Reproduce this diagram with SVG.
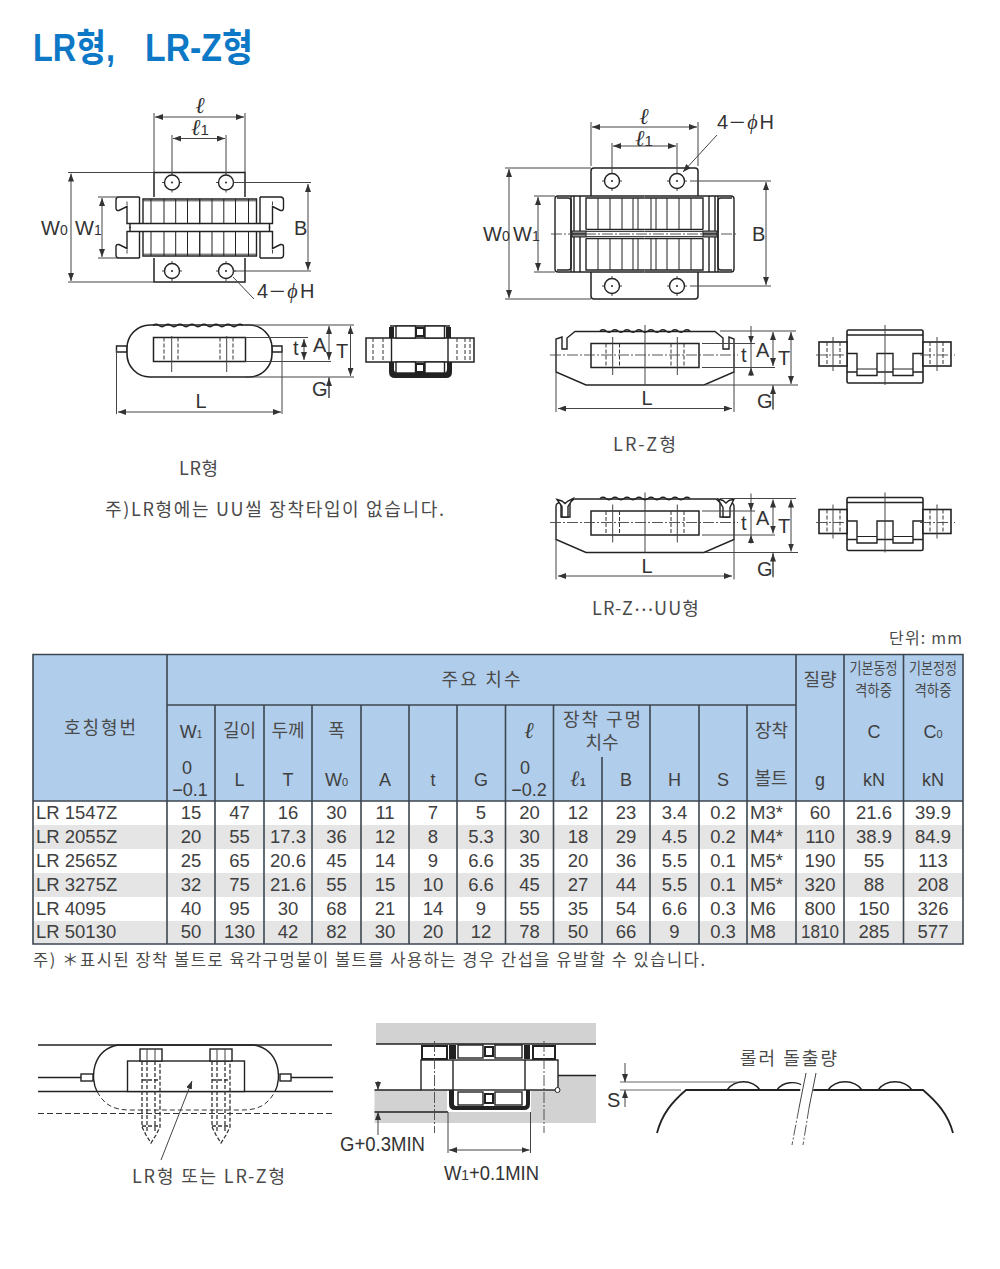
<svg xmlns="http://www.w3.org/2000/svg" width="1000" height="1269" viewBox="0 0 1000 1269">
<style>
text{font-family:"Liberation Sans","Noto Sans CJK KR",sans-serif;fill:#3f3f3f}
.kr{font-family:"Noto Sans CJK KR","Liberation Sans",sans-serif;fill:#4a4a4a}
.d{font-size:20px;fill:#333}
.m{text-anchor:middle}
.l{font-family:"Liberation Serif","DejaVu Serif",serif;font-style:italic}
.s{font-style:normal;font-family:"Liberation Sans",sans-serif}
.c{font-size:18.5px;text-anchor:middle}
.h{font-size:18px;text-anchor:middle}
.n{font-size:18.5px}
.sm{font-size:15px}
.o{fill:none;stroke:#222;stroke-width:1.4}
.w{fill:#fff;stroke:#222;stroke-width:1.4}
.t{fill:none;stroke:#444;stroke-width:1}
.g{fill:none;stroke:#666;stroke-width:1}
.a{fill:none;stroke:#444;stroke-width:1;marker-start:url(#ar);marker-end:url(#ar)}
.a1{fill:none;stroke:#444;stroke-width:1;marker-end:url(#ar)}
.da{fill:none;stroke:#333;stroke-width:1;stroke-dasharray:4 2}
.cl{fill:none;stroke:#444;stroke-width:.9;stroke-dasharray:11 2 2 2}
.k{fill:#222;stroke:none}
.tb{fill:none;stroke:#3c4650;stroke-width:1.6}
</style>
<defs>
<marker id="ar" viewBox="0 0 8 6" refX="8" refY="3" markerWidth="8" markerHeight="6" markerUnits="userSpaceOnUse" orient="auto-start-reverse"><path d="M0 0L8 3L0 6Z" fill="#333"/></marker>
<g id="hole"><circle r="7.500" fill="#fff" stroke="#222" stroke-width="1.400"/><circle r="1" fill="#222"/><path d="M-10 0H-8M8 0H10M0-10V-8M0 8V10" class="t"/></g>
<g id="q1">
<path class="o" d="M139.500 197H119Q116 197 116 200V208Q116 211 119 210.500L127 206.500V223.500H200M130 223.500V228"/>
<path class="o" d="M139.500 197V223.500"/>
<path class="t" d="M127 201.500V205"/>
<path class="o" d="M143 223.500V199H200"/>
<path class="t" d="M143 200.800H200"/>
<path class="t" style="stroke:#222" d="M151 199V223.500M164 199V223.500M175.700 199V223.500M187.500 199V223.500M199.700 199V223.500"/>
</g>
<g id="q2">
<path class="o" d="M644.500 196H558Q555 196 555 199V234"/>
<path class="o" d="M571 196V234M574 196V231M580 196V231"/>
<path class="o" d="M557 198H568Q571 198 571 201V234"/>
<path class="o" d="M586 229.500V198H644.500M586 229.500H644.500"/>
<path class="t" d="M586 231.500H644.500"/>
<path class="t" style="stroke:#222" d="M598 198V229.500M610 198V229.500M622 198V229.500M633 198V229.500M638 198V229.500"/>
<rect x="572" y="231" width="14" height="3" fill="#888" stroke="#222" stroke-width="1"/>
</g>
<path id="rip" class="o" d="M0 0q3-2.500 6 0t6 0 6 0 6 0 6 0 6 0 6 0 6 0 6 0 6 0 6 0 6 0 6 0 6 0 6 0"/>
<g id="bolt">
<rect x="-11" y="-12" width="22" height="12" fill="#fff" stroke="#222" stroke-width="1.400"/>
<path class="t" d="M-4 -12V0M4-12V0"/>
<path class="da" style="stroke-width:1.300" d="M-9 0V66L-5 74L0 82L5 74L9 66V0M-4 0V70M4 0V70M-9 19H9M-9 65H9"/>
</g>
<g id="zsec">
<rect x="847" y="330" width="76" height="53" rx="1.500" fill="#fff" stroke="#222" stroke-width="1.600"/>
<path class="o" d="M847 335H923M847 353.500H857V375.500H877V353.500H893V375.500H913V353.500H923M847 372H857M877 372H893M913 372H923"/>
<path class="t" style="stroke:#222" d="M857 372H877M893 372H913" transform="translate(0 -3)"/>
<rect x="819" y="342" width="28" height="24" fill="#fff" stroke="#222" stroke-width="1.600"/>
<rect x="923" y="342" width="28" height="24" fill="#fff" stroke="#222" stroke-width="1.600"/>
<path class="da" d="M827 342V366M840 342V366M930 342V366M943 342V366"/>
<path class="t" d="M833 337V371M937 337V371M885 325V385"/>
<path class="cl" d="M816 355H850M920 355H955"/>
</g>
<g id="zdim">
<rect x="591" y="343.500" width="108" height="24" fill="none" stroke="#222" stroke-width="1.500"/>
<path class="t" d="M645 325V385"/>
<path class="cl" d="M550 355H738"/>
<path class="da" d="M606 343.500V367.500M619.500 343.500V367.500M671 343.500V367.500M684 343.500V367.500"/>
<path class="t" d="M612.700 337V375M677.300 337V375"/>
<use href="#rip" x="600" y="331"/>
<path class="t" d="M556 372V412M734 372V412M720 331H796M702 343.500H755M702 367.500H775M705 385H798M773 385V410"/>
<path class="a" d="M558 408.500H732"/>
<path class="a1" d="M751 326V343.500"/><path class="a1" d="M751 376V367.500"/><path class="t" d="M751 343.500V367.500"/>
<path class="a" d="M773 332V366"/>
<path class="a" d="M791 332V384"/>
<path class="a1" d="M773 409V386"/>
<text class="d" x="741" y="362">t</text><text class="d" x="756" y="357">A</text><text class="d" x="778" y="365">T</text><text class="d" x="757" y="408">G</text><text class="d m" x="647" y="405">L</text>
</g>
</defs>
<rect width="1000" height="1269" fill="#fff"/>

<g id="title"><text y="61" font-size="38" font-weight="700" style="fill:#0d78c6"><tspan x="33" textLength="82" lengthAdjust="spacingAndGlyphs">LR형,</tspan> <tspan x="145" textLength="108" lengthAdjust="spacingAndGlyphs">LR-Z형</tspan></text></g>

<g id="lr-top">
<rect x="154" y="172.500" width="91" height="109.500" fill="#fff" stroke="#222" stroke-width="1.500"/>
<rect x="118" y="197" width="164" height="61" fill="#fff"/>
<use href="#q1"/>
<use href="#q1" transform="translate(399.500 0) scale(-1 1)"/>
<use href="#q1" transform="translate(0 455) scale(1 -1)"/>
<use href="#q1" transform="translate(399.500 455) scale(-1 -1)"/>
<use href="#hole" x="172" y="182.500"/><use href="#hole" x="226" y="182.500"/><use href="#hole" x="172" y="271"/><use href="#hole" x="226" y="271"/>
<path class="t" d="M154 113V172M245 113V172M172 135V175M226 135V175M68 172.500H154M68 282H154M98 197H118M98 258H118M233 182.500H311M233 271H311"/>
<path class="a" d="M155 117H244"/><path class="a" d="M173 138.500H225"/>
<path class="a" d="M71 173.500V281"/><path class="a" d="M102 198V257"/><path class="a" d="M308 184V270"/>
<path class="t" d="M233 277L254 299"/>
<text class="d l m" x="200" y="113" style="font-size:23px">ℓ</text><text class="d l" x="191" y="135" style="font-size:23px">ℓ<tspan class="s sm">1</tspan></text>
<text class="d" x="41" y="235">W<tspan font-size="14">0</tspan></text><text class="d" x="75" y="235">W<tspan font-size="14">1</tspan></text>
<text class="d" x="294" y="235">B</text><text class="d" x="257" y="298" word-spacing="-3">4<tspan class="kr" style="font-size:18px;fill:#333">－</tspan><tspan class="l" dx="1">ϕ</tspan> H</text>
</g>

<g id="lr-side">
<path class="w" d="M116.500 346H127V352H116.500ZM272 346H282V352H272Z" />
<rect x="127" y="325" width="145" height="52" rx="23" fill="#fff" stroke="#222" stroke-width="1.600"/>
<use href="#rip" x="153" y="325" transform="translate(0 .5)"/>
<rect x="153.500" y="337.500" width="92" height="24" fill="none" stroke="#222" stroke-width="1.500"/>
<path class="da" d="M164 337.500V361.500M178 337.500V361.500M220 337.500V361.500M233 337.500V361.500"/>
<path class="t" d="M171.700 336V372M226.700 336V372M116.500 350V414M282 350V414M245 325H354M245 337.500H308M245 361.500H331M245 377H354M329 377V398"/>
<path class="a" d="M118 412H281"/>
<path class="a" d="M304 339V360"/><path class="a" d="M329 326V360"/><path class="a" d="M350.500 326V376"/><path class="a1" d="M329 398V378"/>
<text class="d" x="293" y="355">t</text><text class="d" x="313" y="352">A</text><text class="d" x="336" y="358">T</text><text class="d" x="312" y="396">G</text><text class="d m" x="201" y="408">L</text>
</g>

<g id="lr-section">
<rect x="366" y="338" width="108" height="24" fill="#fff" stroke="#222" stroke-width="1.500"/>
<path class="da" d="M373 338V362M383 338V362M457 338V362M465 338V362M470 338V362"/>
<path class="o" d="M390 326H450M391.500 338V362M448 338V362"/>
<rect x="389" y="327" width="5" height="11" class="k"/><rect x="446" y="327" width="5" height="11" class="k"/>
<rect x="396" y="326" width="19.500" height="12" class="w"/><rect x="425" y="326" width="19.500" height="12" class="w"/>
<rect x="416" y="328" width="8" height="8" fill="#fff" stroke="#222" stroke-width="2"/>
<path class="k" d="M389 362H394V369Q394 373 398 373H443Q447 373 447 369V362H452V372Q452 378 446 378H395Q389 378 389 372Z"/>
<rect x="396" y="362" width="19.500" height="11" class="w"/><rect x="425" y="362" width="19.500" height="11" class="w"/>
<rect x="416" y="364" width="8" height="8" fill="#fff" stroke="#222" stroke-width="2"/>
</g>

<g id="lrz-top">
<rect x="591" y="168" width="107" height="131" rx="3" fill="#fff" stroke="#222" stroke-width="1.500"/>
<rect x="555" y="196" width="179" height="76" fill="#fff"/>
<use href="#q2"/>
<use href="#q2" transform="translate(1289 0) scale(-1 1)"/>
<use href="#q2" transform="translate(0 468) scale(1 -1)"/>
<use href="#q2" transform="translate(1289 468) scale(-1 -1)"/>
<path class="cl" d="M551 234H738"/>
<use href="#hole" x="612" y="181"/><use href="#hole" x="677" y="181"/><use href="#hole" x="612" y="286"/><use href="#hole" x="677" y="286"/>
<path class="t" d="M591 122V166M698 122V166M612 143V171M677 143V171M505 168H591M505 299H591M534 196H555M534 272H555M690 181H771M690 286H771"/>
<path class="a" d="M592 127H697"/><path class="a" d="M613 146H676"/><path class="a" d="M509 169V298"/><path class="a" d="M538 197V271"/><path class="a" d="M766 182V285"/>
<path class="a1" d="M717 135L683 172"/>
<text class="d l m" x="644" y="124" style="font-size:23px">ℓ</text><text class="d l" x="635" y="146" style="font-size:23px">ℓ<tspan class="s sm">1</tspan></text>
<text class="d" x="483" y="241">W<tspan font-size="14">0</tspan></text><text class="d" x="513" y="241">W<tspan font-size="14">1</tspan></text><text class="d" x="752" y="241">B</text>
<text class="d" x="717" y="129">4<tspan class="kr" style="font-size:18px;fill:#333">－</tspan><tspan class="l" dx="1">ϕ</tspan><tspan dx="2">H</tspan></text>
</g>

<g id="lrz-side">
<path class="w" d="M556 372V339L562 337V349H567V338L575 331.500H715L723 338V349H729V337L734 339V372L704 385H586Z"/>
<use href="#zdim"/>
</g>
<g id="lrz-section"><use href="#zsec"/></g>

<g id="lrzuu-side" transform="translate(0 167.500)">
<path class="w" d="M556 372V339Q556 335 561 335V349.500H570V335L574 331.500H716L720 335V349.500H729V335Q734 335 734 339V372L704 385H586Z"/>
<path class="w" d="M557 332L562 333.500L565 336L568 333.500L573 331L568 339V349.500H562V339Z"/>
<path class="w" d="M718 331.500L723 333L726 335.500L729 333L734 331.500L730 340V349.500H723V340Z"/>
<use href="#zdim"/>
</g>
<g id="lrzuu-section" transform="translate(0 167.500)"><use href="#zsec"/></g>

<g id="captions">
<text class="kr" x="179" y="475" font-size="18" textLength="39">LR형</text>
<text class="kr" x="105" y="516" font-size="18" textLength="339">주)LR형에는 UU씰 장착타입이 없습니다.</text>
<text class="kr" x="613" y="451" font-size="18" textLength="63">LR-Z형</text>
<text class="kr" x="592" y="615" font-size="18" letter-spacing="1.200">LR-Z<tspan dy="-4">⋯</tspan><tspan dy="4">UU형</tspan></text>
<text class="kr" x="889" y="644" font-size="16" textLength="73">단위: mm</text>
<text class="kr" x="33" y="966" font-size="16.500" textLength="672">주) ＊표시된 장착 볼트로 육각구멍붙이 볼트를 사용하는 경우 간섭을 유발할 수 있습니다.</text>
</g>

<g id="table">
<rect x="33" y="654" width="930" height="147" fill="#b0cdeb"/>
<rect x="33" y="825" width="930" height="24" fill="#e5e5e5"/><rect x="33" y="873" width="930" height="24" fill="#e5e5e5"/><rect x="33" y="921" width="930" height="23" fill="#e5e5e5"/>
<path class="tb" d="M33 654.500H963V944H33ZM33 801H963M167 705H796M167 654V944M215 705V944M264 705V944M312 705V944M361 705V944M409 705V944M457 705V944M505.500 705V944M553.500 705V944M602 757V944M650 705V944M699 705V944M747 705V944M796 654V944M844 654V944M903.500 654V944"/>
<g id="head">
<text class="kr h" x="100" y="734" textLength="72">호칭형번</text>
<text class="kr h" x="481" y="686" textLength="79">주요 치수</text>
<text class="h" x="191" y="738">W<tspan font-size="10">1</tspan></text>
<text class="kr h" x="239.500" y="737">길이</text><text class="kr h" x="288" y="737">두께</text><text class="kr h" x="336.500" y="737">폭</text>
<text class="h" x="187" y="774">0</text><text class="h" x="190" y="796">−0.1</text>
<text class="h" x="239.500" y="786">L</text><text class="h" x="288" y="786">T</text><text class="h" x="336.500" y="786">W<tspan font-size="11">0</tspan></text><text class="h" x="385" y="786">A</text><text class="h" x="433" y="786">t</text><text class="h" x="481" y="786">G</text>
<text class="h l" x="529.500" y="738" font-weight="700" style="font-size:23px">ℓ</text><text class="h" x="525" y="774">0</text><text class="h" x="529" y="796">−0.2</text>
<text class="kr h" x="602" y="726" textLength="78">장착 구멍</text><text class="kr h" x="602" y="749">치수</text>
<text class="h l" x="578" y="786" font-weight="700" style="font-size:22px">ℓ<tspan font-size="10" class="s">1</tspan></text><text class="h" x="626" y="786">B</text><text class="h" x="674.500" y="786">H</text><text class="h" x="723" y="786">S</text>
<text class="kr h" x="771.500" y="737">장착</text><text class="kr h" x="771" y="785" font-size="17">볼트</text>
<text class="kr h" x="820" y="686">질량</text><text class="h" x="820" y="786">g</text>
<text class="kr h" x="873.500" y="674" style="font-size:15.500px" textLength="48" lengthAdjust="spacingAndGlyphs">기본동정</text><text class="kr h" x="873.500" y="696" style="font-size:15.500px" textLength="37" lengthAdjust="spacingAndGlyphs">격하중</text>
<text class="kr h" x="933" y="674" style="font-size:15.500px" textLength="48" lengthAdjust="spacingAndGlyphs">기본정정</text><text class="kr h" x="933" y="696" style="font-size:15.500px" textLength="37" lengthAdjust="spacingAndGlyphs">격하중</text>
<text class="h" x="874" y="738">C</text><text class="h" x="933" y="738">C<tspan font-size="11">0</tspan></text>
<text class="h" x="874" y="786">kN</text><text class="h" x="933" y="786">kN</text>
</g>
<g id="row1"><text class="n" x="36" y="819">LR 1547Z</text><text class="c" x="191" y="819">15</text><text class="c" x="239.500" y="819">47</text><text class="c" x="288" y="819">16</text><text class="c" x="336.500" y="819">30</text><text class="c" x="385" y="819">11</text><text class="c" x="433" y="819">7</text><text class="c" x="481" y="819">5</text><text class="c" x="529.500" y="819">20</text><text class="c" x="578" y="819">12</text><text class="c" x="626" y="819">23</text><text class="c" x="674.500" y="819">3.4</text><text class="c" x="723" y="819">0.2</text><text class="n" x="750" y="819">M3*</text><text class="c" x="820" y="819">60</text><text class="c" x="874" y="819">21.6</text><text class="c" x="933" y="819">39.9</text></g>
<g id="row2"><text class="n" x="36" y="843">LR 2055Z</text><text class="c" x="191" y="843">20</text><text class="c" x="239.500" y="843">55</text><text class="c" x="288" y="843">17.3</text><text class="c" x="336.500" y="843">36</text><text class="c" x="385" y="843">12</text><text class="c" x="433" y="843">8</text><text class="c" x="481" y="843">5.3</text><text class="c" x="529.500" y="843">30</text><text class="c" x="578" y="843">18</text><text class="c" x="626" y="843">29</text><text class="c" x="674.500" y="843">4.5</text><text class="c" x="723" y="843">0.2</text><text class="n" x="750" y="843">M4*</text><text class="c" x="820" y="843">110</text><text class="c" x="874" y="843">38.9</text><text class="c" x="933" y="843">84.9</text></g>
<g id="row3"><text class="n" x="36" y="867">LR 2565Z</text><text class="c" x="191" y="867">25</text><text class="c" x="239.500" y="867">65</text><text class="c" x="288" y="867">20.6</text><text class="c" x="336.500" y="867">45</text><text class="c" x="385" y="867">14</text><text class="c" x="433" y="867">9</text><text class="c" x="481" y="867">6.6</text><text class="c" x="529.500" y="867">35</text><text class="c" x="578" y="867">20</text><text class="c" x="626" y="867">36</text><text class="c" x="674.500" y="867">5.5</text><text class="c" x="723" y="867">0.1</text><text class="n" x="750" y="867">M5*</text><text class="c" x="820" y="867">190</text><text class="c" x="874" y="867">55</text><text class="c" x="933" y="867">113</text></g>
<g id="row4"><text class="n" x="36" y="891">LR 3275Z</text><text class="c" x="191" y="891">32</text><text class="c" x="239.500" y="891">75</text><text class="c" x="288" y="891">21.6</text><text class="c" x="336.500" y="891">55</text><text class="c" x="385" y="891">15</text><text class="c" x="433" y="891">10</text><text class="c" x="481" y="891">6.6</text><text class="c" x="529.500" y="891">45</text><text class="c" x="578" y="891">27</text><text class="c" x="626" y="891">44</text><text class="c" x="674.500" y="891">5.5</text><text class="c" x="723" y="891">0.1</text><text class="n" x="750" y="891">M5*</text><text class="c" x="820" y="891">320</text><text class="c" x="874" y="891">88</text><text class="c" x="933" y="891">208</text></g>
<g id="row5"><text class="n" x="36" y="915">LR 4095</text><text class="c" x="191" y="915">40</text><text class="c" x="239.500" y="915">95</text><text class="c" x="288" y="915">30</text><text class="c" x="336.500" y="915">68</text><text class="c" x="385" y="915">21</text><text class="c" x="433" y="915">14</text><text class="c" x="481" y="915">9</text><text class="c" x="529.500" y="915">55</text><text class="c" x="578" y="915">35</text><text class="c" x="626" y="915">54</text><text class="c" x="674.500" y="915">6.6</text><text class="c" x="723" y="915">0.3</text><text class="n" x="750" y="915">M6</text><text class="c" x="820" y="915">800</text><text class="c" x="874" y="915">150</text><text class="c" x="933" y="915">326</text></g>
<g id="row6"><text class="n" x="36" y="938">LR 50130</text><text class="c" x="191" y="938">50</text><text class="c" x="239.500" y="938">130</text><text class="c" x="288" y="938">42</text><text class="c" x="336.500" y="938">82</text><text class="c" x="385" y="938">30</text><text class="c" x="433" y="938">20</text><text class="c" x="481" y="938">12</text><text class="c" x="529.500" y="938">78</text><text class="c" x="578" y="938">50</text><text class="c" x="626" y="938">66</text><text class="c" x="674.500" y="938">9</text><text class="c" x="723" y="938">0.3</text><text class="n" x="750" y="938">M8</text><text class="c" x="820" y="938" textLength="38" lengthAdjust="spacingAndGlyphs">1810</text><text class="c" x="874" y="938">285</text><text class="c" x="933" y="938">577</text></g>
</g>

<g id="mount-left">
<path class="o" d="M38 1045H332M38 1077.500H81M291 1077.500H333M38 1091.500H333"/>
<path class="da" d="M38 1113.500H333" style="stroke-width:1.200;stroke-dasharray:6 3"/>
<path class="o" d="M97 1091.500C90 1078 92 1050 118 1045H254C280 1050 282 1078 275 1091.500"/>
<path class="da" d="M97 1091.500C104 1104 112 1110 130 1110H242C260 1110 268 1104 275 1091.500" style="stroke-dasharray:5 3"/>
<rect x="81" y="1074" width="12" height="7" class="w"/><rect x="280" y="1074" width="11" height="7" class="w"/>
<rect x="127.500" y="1061" width="117" height="30.500" class="w"/>
<use href="#bolt" x="151" y="1061"/><use href="#bolt" x="221" y="1061"/>
<path class="a1" d="M161 1160L192 1081"/>
<text class="kr" x="132" y="1183" font-size="18" textLength="153">LR형 또는 LR-Z형</text>
</g>

<g id="mount-center">
<rect x="376" y="1023" width="220" height="21" fill="#d2d2d2"/>
<path d="M374.500 1090H447V1112H531V1090V1075.500H596V1123H374.500Z" fill="#d2d2d2"/>
<rect x="421" y="1060" width="137" height="30" class="w"/>
<path class="o" d="M376 1044H596M374.500 1090H421M374.500 1112H448M558 1075.500H596M453 1060V1090M525 1060V1090"/>
<rect x="422" y="1046" width="25" height="13" class="w" style="stroke-width:2"/><rect x="533" y="1046" width="22" height="13" class="w" style="stroke-width:2"/>
<rect x="449" y="1045" width="7" height="14" class="k"/><rect x="524" y="1045" width="6" height="14" class="k"/>
<rect x="458" y="1045" width="25" height="13" class="w"/><rect x="495" y="1045" width="27" height="13" class="w"/>
<rect x="485" y="1047" width="8" height="9" fill="#fff" stroke="#222" stroke-width="2"/>
<path class="k" d="M449 1090H454V1104Q454 1106 457 1106H523Q526 1106 526 1104V1090H530V1104Q530 1110 524 1110H455Q449 1110 449 1104Z"/>
<rect x="458" y="1092" width="25" height="13" class="w"/><rect x="495" y="1092" width="27" height="13" class="w"/>
<rect x="485" y="1094" width="8" height="9" fill="#fff" stroke="#222" stroke-width="2"/>
<circle cx="557.500" cy="1090" r="2.500" fill="#fff" stroke="#222"/>
<path class="cl" d="M434.500 1041V1133M544 1041V1133"/>
<path class="t" d="M448 1112V1153M530.500 1112V1153"/>
<path class="a1" d="M378 1081V1090"/><path class="a1" d="M378 1135V1112"/>
<path class="a" d="M449 1150H529.500"/>
<text class="d" x="340" y="1151" textLength="85" lengthAdjust="spacingAndGlyphs">G+0.3MIN</text>
<text class="d" x="444" y="1180" textLength="95" lengthAdjust="spacingAndGlyphs">W<tspan font-size="15">1</tspan>+0.1MIN</text>
</g>

<g id="mount-right">
<path class="o" d="M657 1133C662 1114 672 1102 686 1090H923C937 1102 948 1114 953 1133" style="stroke-width:1.800"/>
<path class="o" d="M727 1090C735 1079 752 1079 760 1090M777 1090C783 1081 797 1081 803 1086M828 1090C836 1079 854 1079 862 1090M878 1090C886 1079 904 1079 912 1090"/>
<path fill="#fff" d="M805 1060L818 1060L812 1098L799 1098Z"/>
<path class="g" d="M620 1082H737M620 1090H681"/>
<path class="t" d="M806 1073L799 1108M816 1073L809 1108"/>
<path class="cl" d="M799 1108L792 1145M809 1108L803 1145"/>
<path class="a1" d="M625 1063V1082"/><path class="a1" d="M625 1107V1090"/>
<text class="d" x="607" y="1107">S</text>
<text class="kr" x="740" y="1065" font-size="18" textLength="97">롤러 돌출량</text>
</g>
</svg>
